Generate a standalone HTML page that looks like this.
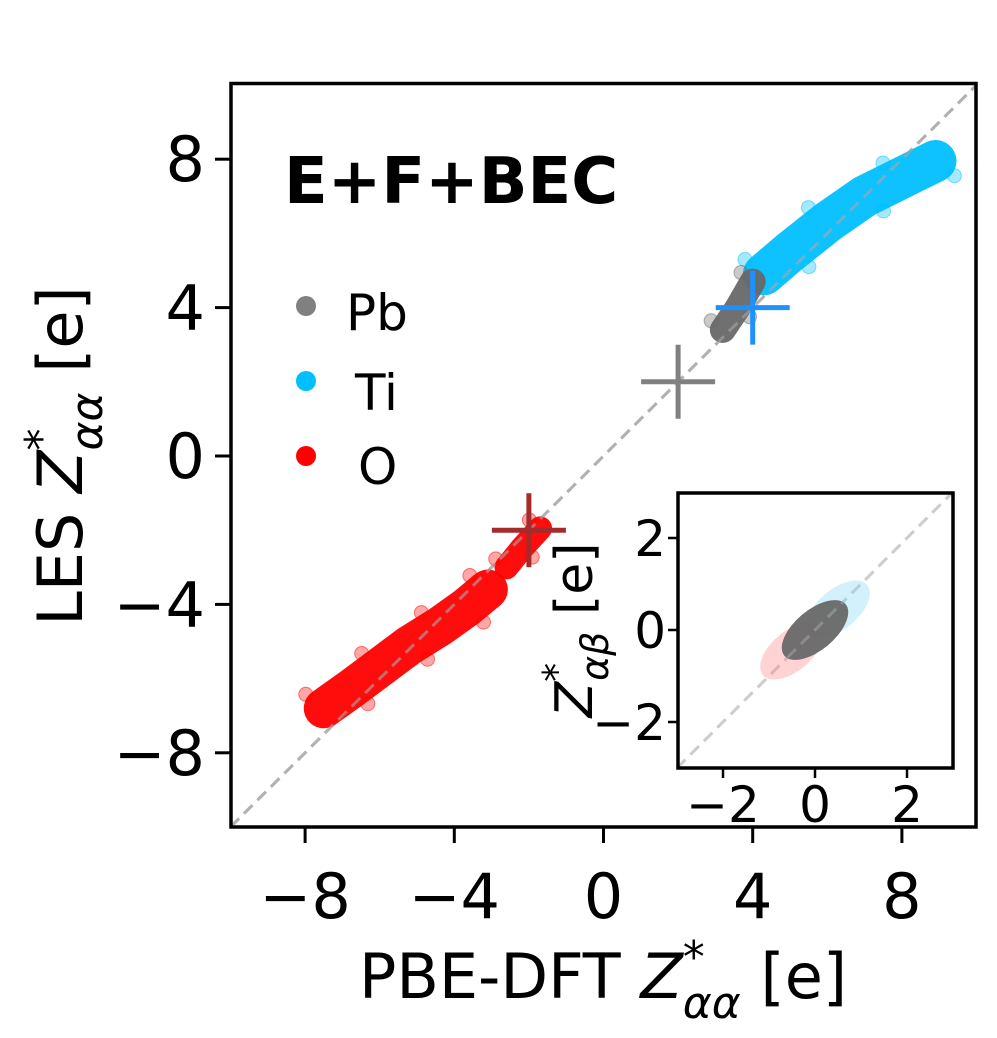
<!DOCTYPE html>
<html><head><meta charset="utf-8"><style>
body{margin:0;background:#fff}
svg text{font-family:"DejaVu Sans","Liberation Sans",sans-serif}
</style></head><body>
<svg id="chart" width="997" height="1038" viewBox="0 0 997 1038" xmlns="http://www.w3.org/2000/svg" style="position:absolute;left:0;top:0">
<rect width="997" height="1038" fill="#fff"/>
<g id="main"></g>
<g id="inset"></g>
</svg>
<script>
const ticks=[-8,-4,0,4,8];
const insetTicks=[-2,0,2];
const oSpineA=[[-7.5,-6.8],[-6.8,-6.3],[-6.0,-5.7],[-5.2,-5.1],[-4.4,-4.6],[-3.7,-4.1],[-3.1,-3.6]];
const oSpineB=[[-2.6,-3.0],[-2.2,-2.5],[-1.7,-1.95]];
const tiSpine=[[4.3,4.9],[5.0,5.5],[6.0,6.3],[7.0,7.0],[8.0,7.5],[8.9,7.95]];
const pbSpine=[[3.2,3.4],[3.6,4.0],[4.0,4.7]];
const crossX=[-2,2,4];
const crossY=[-2,2,4];
const crossColors=['#a52a2a','#808080','#1e90ff'];
const insetCenters=[[-0.5,-0.45],[0.5,0.45],[0,0]];
const NS='http://www.w3.org/2000/svg';
function el(t,a,p){const e=document.createElementNS(NS,t);for(const k in a)e.setAttribute(k,a[k]);p.appendChild(e);return e;}
const X=v=>603.5+v*37.3, Y=v=>456-v*37.1;
const IX=v=>815+v*46, IY=v=>630-v*46;
const m=document.getElementById('main'), ins=document.getElementById('inset');
let d=el('line',{x1:X(-10),y1:Y(-10),x2:X(10),y2:Y(10),stroke:'#bbb','stroke-width':3,'stroke-dasharray':'12,7'},m);


function spine(pts,col,w,name){
 const p=el('polyline',{points:pts.map(q=>X(q[0])+','+Y(q[1])).join(' '),fill:'none',stroke:col,'stroke-width':w,'stroke-linecap':'round','stroke-linejoin':'round','stroke-opacity':0.95},m);
 
 
 pts.forEach((q,i)=>{const s=i%2?1:-1;const c=el('circle',{cx:X(q[0])+s*w*0.45,cy:Y(q[1])+s*w*0.35,r:7,fill:col,'fill-opacity':0.35,stroke:col,'stroke-opacity':0.5},m);
 
 });
}
spine(oSpineA,'#ff0000',40,'o-cluster');
spine(oSpineB,'#ff0000',24,'o-cluster-tail');
spine(tiSpine,'#00bfff',42,'ti-cluster');
spine(pbSpine,'#686868',26,'pb-cluster');
d=el('line',{x1:X(-10),y1:Y(-10),x2:X(10),y2:Y(10),stroke:'#aaa','stroke-opacity':0.6,'stroke-width':3,'stroke-dasharray':'12,7'},m);


crossX.forEach((cx,i)=>{
 const g=el('g',{stroke:crossColors[i],'stroke-width':5},m);
 
 
 el('line',{x1:X(cx)-37,y1:Y(crossY[i]),x2:X(cx)+37,y2:Y(crossY[i])},g);
 el('line',{x1:X(cx),y1:Y(crossY[i])-37,x2:X(cx),y2:Y(crossY[i])+37},g);
});
let f=el('rect',{x:231,y:83.5,width:745,height:743.5,fill:'none',stroke:'#000','stroke-width':3.5},m);


ticks.forEach(t=>{
 el('line',{x1:X(t),y1:827,x2:X(t),y2:843,stroke:'#000','stroke-width':3},m);
 let tx=el('text',{x:X(t),y:918,'font-size':62,'text-anchor':'middle'},m);tx.textContent=(t<0?'\u2212':'')+Math.abs(t);
 
 
 el('line',{x1:215,y1:Y(t),x2:231,y2:Y(t),stroke:'#000','stroke-width':3},m);
 let ty=el('text',{x:205,y:Y(t)+22,'font-size':62,'text-anchor':'end'},m);ty.textContent=(t<0?'\u2212':'')+Math.abs(t);
 
 
});
let ib=el('rect',{x:678,y:493,width:275,height:275,fill:'#fff',stroke:'none'},ins);


el('line',{x1:IX(-3),y1:IY(-3),x2:IX(3),y2:IY(3),stroke:'#ccc','stroke-width':3,'stroke-dasharray':'12,7'},ins);
const ic=['#ff8080','#80d8f8','#686868'];
insetCenters.forEach((q,i)=>{
 const big=i==2;
 const e=el('ellipse',{cx:IX(q[0]),cy:IY(q[1]),rx:big?40:38,ry:big?20:20,fill:ic[i],'fill-opacity':big?0.95:0.35,transform:`rotate(-40 ${IX(q[0])} ${IY(q[1])})`},ins);
 
 
});
el('line',{x1:IX(-0.6),y1:IY(-0.6),x2:IX(0.6),y2:IY(0.6),stroke:'#999','stroke-width':3,'stroke-dasharray':'12,7','stroke-opacity':0.7},ins);
let ifr=el('rect',{x:678,y:493,width:275,height:275,fill:'none',stroke:'#000','stroke-width':3.5},ins);


insetTicks.forEach(t=>{
 el('line',{x1:IX(t),y1:768,x2:IX(t),y2:778,stroke:'#000','stroke-width':2.5},ins);
 let tx=el('text',{x:IX(t),y:822,'font-size':50,'text-anchor':'middle'},ins);tx.textContent=(t<0?'\u2212':'')+Math.abs(t);
 
 
 el('line',{x1:668,y1:IY(t),x2:678,y2:IY(t),stroke:'#000','stroke-width':2.5},ins);
 let ty=el('text',{x:666,y:IY(t)+18,'font-size':50,'text-anchor':'end'},ins);ty.textContent=(t<0?'\u2212':'')+Math.abs(t);
 
 
});
</script>
<svg style="position:absolute;left:0;top:0" width="997" height="1038" xmlns="http://www.w3.org/2000/svg">
<text x="284" y="203" font-size="64" font-weight="bold">E+F+BEC</text>
<g font-size="50">
<circle cx="306" cy="306" r="10" fill="#808080"/>
<text x="346" y="330">Pb</text>
<circle cx="306" cy="381" r="10" fill="#00bfff"/>
<text x="355" y="410">Ti</text>
<circle cx="306" cy="456" r="10" fill="#ff0000"/>
<text x="358" y="484">O</text>
</g>
<text x="603" y="998" font-size="62" text-anchor="middle">PBE-DFT <tspan font-style="italic">Z</tspan><tspan dy="-26" font-size="44">*</tspan><tspan dx="-22" dy="46" font-size="44" font-style="italic">αα</tspan><tspan dy="-20"> [e]</tspan></text>
<text transform="translate(82,456) rotate(-90)" font-size="62" text-anchor="middle">LES <tspan font-style="italic">Z</tspan><tspan dy="-26" font-size="44">*</tspan><tspan dx="-22" dy="46" font-size="44" font-style="italic">αα</tspan><tspan dy="-20"> [e]</tspan></text>
<text transform="translate(592,630) rotate(-90)" font-size="52" text-anchor="middle"><tspan font-style="italic">Z</tspan><tspan dy="-22" font-size="38">*</tspan><tspan dx="-18" dy="38" font-size="38" font-style="italic">αβ</tspan><tspan dy="-16"> [e]</tspan></text>
</svg>
</body></html>
